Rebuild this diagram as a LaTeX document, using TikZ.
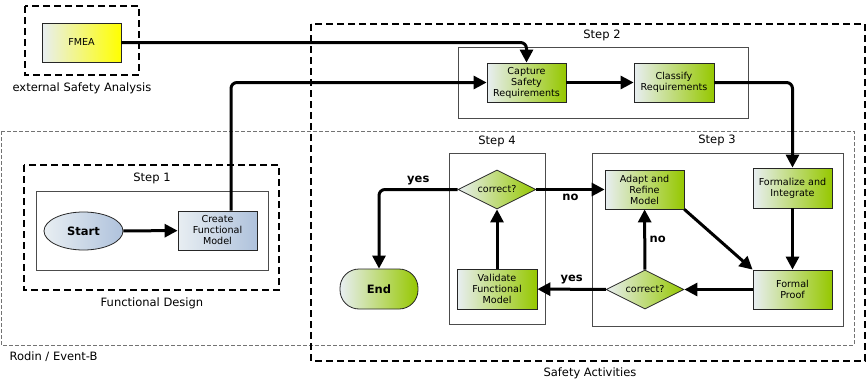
\documentclass[tikz,border=0pt]{standalone}
\usepackage{fontspec}
\setmainfont{DejaVu Sans}
\usetikzlibrary{arrows.meta,shapes.geometric}
\definecolor{paleshade}{HTML}{E8EEF2}
\definecolor{leafgreen}{HTML}{96C800}
\definecolor{steelshade}{HTML}{AFC2DC}
\definecolor{fmeayellow}{HTML}{FFFF00}
\begin{document}
    \begin{tikzpicture}[x=1pt,y=-1pt,
        task/.style={draw=black!85, line width=0.8pt, left color=paleshade, right color=leafgreen,
            minimum width=79pt, minimum height=39pt, inner sep=1pt, align=center,
            font=\fontsize{9.6}{11}\selectfont},
        decision/.style={task, diamond, aspect=2, minimum width=78pt, minimum height=39pt, inner sep=0pt},
        flow/.style={line width=3pt, -{Triangle[length=13pt,width=13pt]}, rounded corners=6pt},
        container/.style={line width=1.8pt, dash pattern=on 7pt off 4pt},
        tool/.style={black!55, line width=0.9pt, dash pattern=on 4pt off 2pt},
        stepbox/.style={draw=black!70, line width=0.8pt},
        caption/.style={font=\fontsize{11.5}{13}\selectfont},
        answer/.style={font=\bfseries\fontsize{11.5}{13}\selectfont}]
        \useasboundingbox (0,0) rectangle (868,380);
        \draw[tool] (1,131) rectangle (854,345);
        \draw[container] (25,6) rectangle (139,75);
        \draw[container] (311,24) rectangle (865,361);
        \draw[container] (24,165) rectangle (279,290);
        \draw[stepbox] (36,191) rectangle (268,270);
        \draw[stepbox] (458,47) rectangle (748,118);
        \draw[stepbox] (449,153) rectangle (545,324);
        \draw[stepbox] (592,153) rectangle (843,326);
        \node[caption] (extlabel) at (82,88) {external Safety Analysis};
        \node[caption, anchor=west] (rodinlabel) at (6,357) {Rodin / Event-B};
        \node[caption] (safetylabel) at (590,373) {Safety Activities};
        \node[caption] (designlabel) at (152,303) {Functional Design};
        \foreach \n/\x/\y in {1/152/178, 2/602/35, 3/717/140, 4/497/141} {
            \node[caption] (step\n label) at (\x,\y) {Step \n};
        }
        \node[task, right color=fmeayellow] (fmea) at (81.5,42.5) {FMEA};
        \node[task, ellipse, right color=steelshade, minimum width=79pt, minimum height=38pt,
            font=\bfseries\fontsize{11.5}{13}\selectfont] (start) at (83.5,231) {Start};
        \node[task, right color=steelshade] (create) at (217.5,230.5) {Create\\Functional\\Model};
        \node[task] (capture) at (526.5,82.5) {Capture\\Safety\\Requirements};
        \node[task, minimum width=80pt] (classify) at (674,82.5) {Classify\\Requirements};
        \node[task] (adapt) at (644.5,189.5) {Adapt and\\Refine\\Model};
        \node[task, minimum height=40pt] (formalize) at (792.5,188) {Formalize and\\Integrate};
        \node[task] (proof) at (792.5,289.5) {Formal\\Proof};
        \node[decision] (check3) at (645,289.5) {correct?};
        \node[task, minimum width=80pt, minimum height=40pt] (validate) at (497,289) {Validate\\Functional\\Model};
        \node[decision] (check4) at (497,189.5) {correct?};
        \node[task, minimum width=78pt, minimum height=40pt, rounded corners=19pt,
            font=\bfseries\fontsize{11.5}{13}\selectfont] (end) at (379,289) {End};
        \draw[flow] (start) -- (create);
        \draw[flow] (fmea.east) -| (capture.north);
        \draw[flow] ([xshift=13.5pt]create.north) |- (capture.west);
        \draw[flow] (capture) -- (classify);
        \draw[flow] (classify.east) -| (formalize.north);
        \draw[flow] (formalize) -- (proof);
        \draw[flow] (adapt.south east) -- (proof.north west);
        \draw[flow] (proof) -- (check3);
        \draw[flow] (check3) -- node[answer, right] (no3) {no} (adapt);
        \draw[flow] (check3) -- node[answer, above] (yes3) {yes} (validate);
        \draw[flow] (validate) -- (check4);
        \draw[flow] (check4) -- node[answer, below] (no4) {no} (adapt);
        \draw[flow] (check4.west) -| node[answer, pos=0.25, above] (yes4) {yes} (end.north);
    \end{tikzpicture}
\end{document}
